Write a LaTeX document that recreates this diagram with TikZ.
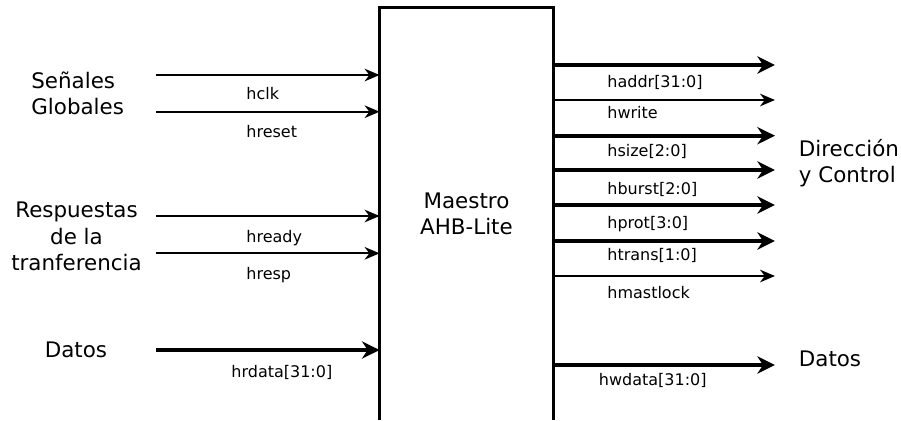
\documentclass[tikz,border=0pt]{standalone}
\usepackage{fontspec}
\setmainfont{DejaVu Sans}
\usetikzlibrary{arrows.meta}

\tikzset{
  bigtext/.style={inner sep=0pt, font=\fontsize{10.7}{13.25}\selectfont},
  sig/.style={inner sep=0pt, anchor=base west, font=\fontsize{8}{10}\selectfont},
  wire/.style={line width=0.95pt, -{Stealth[length=7.5pt, width=6.3pt, inset=2.4pt]}},
  bus/.style={line width=2pt, -{Stealth[length=8.8pt, width=8.6pt, inset=2.8pt]}},
  boxline/.style={line width=1.4pt, line cap=butt, line join=miter},
}

\begin{document}
\begin{tikzpicture}[x=0.5pt, y=-0.5pt]
  \useasboundingbox (0,0) rectangle (901,420);

  % master block (open at the bottom)
  \node[bigtext, align=center, minimum width=86.5pt, minimum height=206pt]
    (master) at (466.5,214) {Maestro\\AHB-Lite};
  \draw[boxline] (master.south west) -- (master.north west)
                 -- (master.north east) -- (master.south east);

  % group captions
  \node[bigtext, align=left, anchor=west] (glob) at (31,93.3) {Señales\\Globales};
  \node[bigtext, align=center] (resp) at (76.5,236.5) {Respuestas\\de la\\tranferencia};
  \node[bigtext] (din) at (76,349.5) {Datos};
  \node[bigtext, align=left, anchor=west] (ctrl) at (798.5,163) {Dirección\\y Control};
  \node[bigtext, anchor=west] (dout) at (798.5,358.5) {Datos};

  % free ends of the input wires
  \coordinate (iclk)   at (156,75);
  \coordinate (irst)   at (156,111.7);
  \coordinate (irdy)   at (156,216);
  \coordinate (iresp)  at (156,253.3);
  \coordinate (irdata) at (156,350);

  % free ends of the output wires
  \coordinate (oaddr)  at (775,65);
  \coordinate (owrite) at (775,100);
  \coordinate (osize)  at (775,135.7);
  \coordinate (oburst) at (775,170);
  \coordinate (oprot)  at (775,205);
  \coordinate (otrans) at (775,241);
  \coordinate (olock)  at (775,276);
  \coordinate (owdata) at (775,365);

  % inputs
  \draw[wire] (iclk)   -- (iclk -| master.west);
  \draw[wire] (irst)   -- (irst -| master.west);
  \draw[wire] (irdy)   -- (irdy -| master.west);
  \draw[wire] (iresp)  -- (iresp -| master.west);
  \draw[bus]  (irdata) -- (irdata -| master.west);

  % outputs
  \draw[bus]  (oaddr -| master.east)  -- (oaddr);
  \draw[wire] (owrite -| master.east) -- (owrite);
  \draw[bus]  (osize -| master.east)  -- (osize);
  \draw[bus]  (oburst -| master.east) -- (oburst);
  \draw[bus]  (oprot -| master.east)  -- (oprot);
  \draw[bus]  (otrans -| master.east) -- (otrans);
  \draw[wire] (olock -| master.east)  -- (olock);
  \draw[bus]  (owdata -| master.east) -- (owdata);

  % signal names
  \node[sig] (lclk)   at (246,99.3)  {hclk};
  \node[sig] (lrst)   at (246,137)   {hreset};
  \node[sig] (lrdy)   at (246,242.7) {hready};
  \node[sig] (lresp)  at (246,279)   {hresp};
  \node[sig] (lrdata) at (231,377.7) {hrdata[31:0]};

  \node[sig] (laddr)  at (607,87.7)  {haddr[31:0]};
  \node[sig] (lwrite) at (607,118.3) {hwrite};
  \node[sig] (lsize)  at (607,156)   {hsize[2:0]};
  \node[sig] (lburst) at (607,194.3) {hburst[2:0]};
  \node[sig] (lprot)  at (607,228.7) {hprot[3:0]};
  \node[sig] (ltrans) at (607,260.3) {htrans[1:0]};
  \node[sig] (llock)  at (607,298.7) {hmastlock};
  \node[sig] (lwdata) at (598.5,385.3) {hwdata[31:0]};
\end{tikzpicture}
\end{document}
